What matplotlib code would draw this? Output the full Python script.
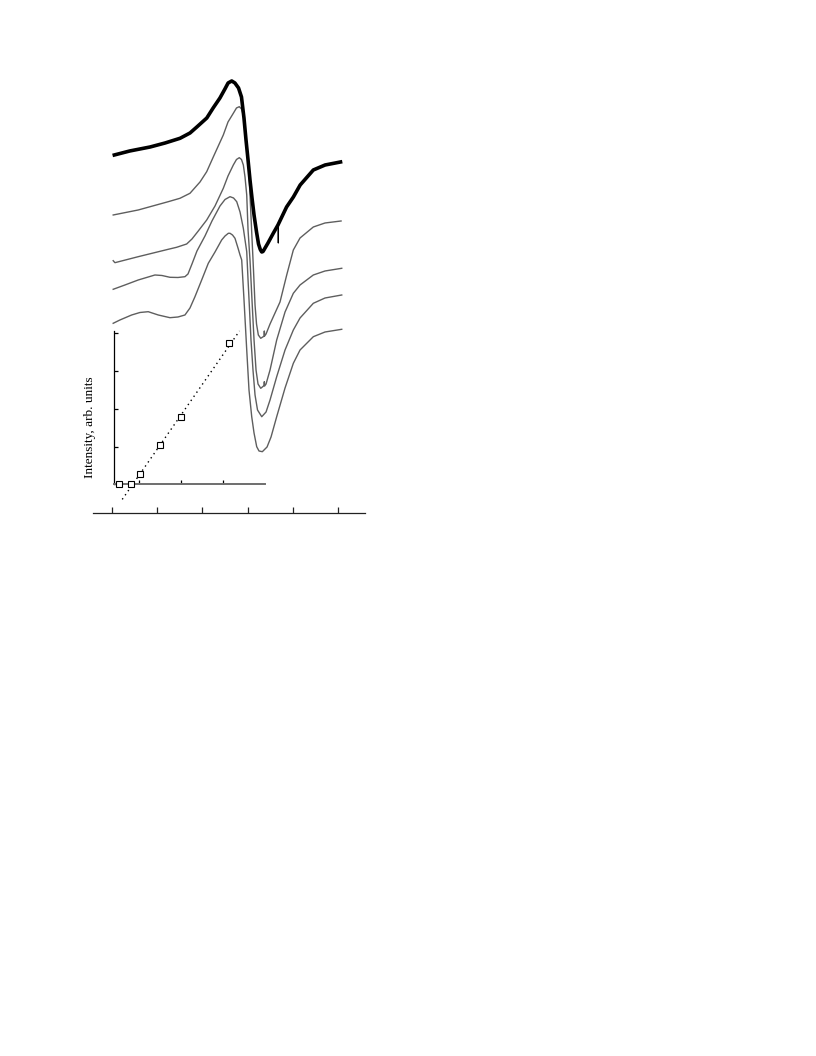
"""Stacked derivative spectra with an inset of intensity vs. dose."""

import matplotlib

matplotlib.use("Agg")
import matplotlib.pyplot as plt

# field axis, mT (ticks have no labels in the original)
field_ticks = [320, 330, 340, 350, 360, 370]

# top trace: noisy measured spectrum (values include the vertical offset)
b_meas = [320.6, 324.0, 328.5, 331.8, 335.1, 337.3, 338.8, 341.0, 342.4, 343.9,
          345.0, 345.7, 346.5, 347.2, 348.0, 348.65, 349.2, 349.65, 350.1, 350.53,
          350.97, 351.42, 351.97, 352.41, 352.8, 353.12, 353.4, 353.6, 354.5, 355.7,
          356.7, 358.6, 360.1, 361.6, 364.5, 367.1, 370.5]
i_meas = [35.8, 36.2, 36.6, 37.0, 37.47, 38.0, 38.6, 39.5, 40.5, 41.5,
          42.4, 43.0, 43.2, 43.0, 42.5, 41.6, 39.5, 37.3, 35.3, 33.3,
          31.5, 29.8, 28.1, 26.9, 26.35, 26.1, 26.15, 26.3, 27.0, 28.0,
          28.8, 30.6, 31.6, 32.8, 34.3, 34.8, 35.1]
# narrow glitch below the measured trace
b_glitch = [356.76, 356.78, 356.80]
i_glitch = [28.8, 27.0, 28.8]

# simulated traces, top to bottom
b_sim1 = [320.35, 325.87, 332.50, 335.08, 337.29, 339.50, 340.98, 342.43, 344.64, 345.68,
          346.85, 347.55, 348.17, 348.65, 349.06, 349.43, 349.87, 350.16, 350.53, 350.97,
          351.30, 351.64, 351.97, 352.37, 352.90, 353.52, 353.63, 353.69, 353.76, 354.07,
          354.95, 356.05, 357.15, 358.63, 360.09, 361.57, 364.50, 367.08, 370.62]
i_sim1 = [29.8, 30.3, 31.13, 31.47, 31.97, 33.1, 34.13, 35.6, 37.8, 39.1,
          39.97, 40.5, 40.63, 40.4, 39.8, 38.5, 36.5, 35.13, 31.8, 27.5,
          24.3, 20.8, 18.9, 17.8, 17.47, 17.65, 17.7, 18.2, 17.7, 17.9,
          18.9, 20.0, 21.1, 23.8, 26.3, 27.5, 28.6, 29.0, 29.2]

b_sim2 = [320.35, 320.73, 325.87, 332.50, 334.35, 336.56, 337.73, 339.12, 340.98, 342.81,
          344.64, 345.68, 346.85, 347.55, 348.17, 348.65, 349.06, 349.43, 349.81, 350.10,
          350.53, 350.97, 351.42, 351.86, 352.30, 352.90, 353.52, 353.63, 353.69, 353.76,
          354.07, 354.95, 356.42, 358.26, 360.09, 361.57, 364.50, 367.08, 370.77]
i_sim2 = [25.23, 25.03, 25.63, 26.37, 26.57, 26.9, 27.4, 28.2, 29.3, 30.7,
          32.47, 33.7, 34.8, 35.35, 35.53, 35.35, 34.8, 33.6, 31.8, 28.3,
          25.3, 21.3, 17.3, 14.3, 12.9, 12.47, 12.7, 12.75, 13.13, 12.7,
          12.9, 14.3, 17.3, 20.1, 21.97, 22.8, 23.8, 24.2, 24.47]

b_sim3 = [320.35, 322.94, 325.87, 329.56, 331.10, 332.87, 334.64, 336.18, 336.85, 337.73,
          338.83, 340.60, 342.14, 343.91, 345.02, 346.12, 346.90, 347.60, 348.33, 349.06,
          349.81, 350.10, 350.43, 350.75, 351.19, 351.64, 352.19, 353.12, 354.07, 354.95,
          356.42, 358.26, 360.09, 361.57, 364.50, 367.08, 370.77]
i_sim3 = [22.37, 22.8, 23.3, 23.8, 23.75, 23.57, 23.55, 23.63, 23.9, 24.9,
          26.2, 27.7, 29.2, 30.7, 31.35, 31.63, 31.5, 31.13, 30.1, 28.47,
          26.13, 23.3, 20.3, 17.3, 14.3, 11.8, 10.3, 9.63, 10.1, 11.3,
          13.63, 16.3, 18.3, 19.5, 20.97, 21.5, 21.8]

b_sim4 = [320.35, 321.83, 324.42, 326.25, 328.08, 330.29, 332.87, 334.64, 336.18, 337.29,
          338.39, 339.94, 341.33, 342.81, 344.28, 345.02, 345.75, 346.12, 346.67, 347.22,
          347.88, 348.33, 348.70, 349.21, 349.81, 350.31, 350.91, 351.42, 352.01, 352.52,
          353.25, 354.29, 355.17, 356.42, 358.26, 360.09, 361.57, 364.50, 367.08, 370.77]
i_sim4 = [18.97, 19.3, 19.8, 20.05, 20.13, 19.8, 19.53, 19.6, 19.8, 20.5,
          21.63, 23.38, 24.97, 26.1, 27.3, 27.7, 27.97, 27.97, 27.8, 27.47,
          26.5, 25.8, 25.3, 21.3, 16.3, 12.3, 9.63, 8.0, 6.63, 6.2,
          6.13, 6.6, 7.6, 9.63, 12.5, 14.97, 16.3, 17.63, 18.1, 18.37]

# inset: intensity vs dose, with linear fit
dose = [0.51, 0.80, 1.01, 1.50, 2.00, 3.15]
intensity = [0.0, 0.0, 0.26, 1.05, 1.79, 3.73]
fit_x = [0.59, 3.40]
fit_y = [-0.40, 4.06]


def main() -> int:
    plt.rcParams["font.family"] = ["Liberation Serif", "DejaVu Serif"]
    fig = plt.figure(figsize=(8.16, 10.56), dpi=100)

    ax = fig.add_axes([0.114, 0.5142, 0.3333, 0.4148])
    ax.patch.set_visible(False)
    grey = "#5e5e5e"
    for b, i in [(b_sim1, i_sim1), (b_sim2, i_sim2), (b_sim3, i_sim3), (b_sim4, i_sim4)]:
        ax.plot(b, i, color=grey, lw=1.0)
    ax.plot(b_meas, i_meas, color="black", lw=2.6, solid_joinstyle="round")
    ax.plot(b_glitch, i_glitch, color="black", lw=0.9)
    ax.set_xlim(315.9, 375.9)
    ax.set_ylim(0, 43.8)
    for s in ("left", "right", "top"):
        ax.spines[s].set_visible(False)
    ax.spines["bottom"].set_color("#222222")
    ax.spines["bottom"].set_linewidth(0.9)
    ax.set_xticks(field_ticks)
    ax.set_xticklabels([])
    ax.set_yticks([])
    ax.tick_params(axis="x", direction="in", length=4, width=0.9, color="#222222")

    ins = fig.add_axes([0.1401, 0.5414, 0.1841, 0.1452])
    ins.patch.set_visible(False)
    ins.plot(fit_x, fit_y, color="black", lw=1.0, ls=(0, (1, 2.6)), clip_on=False)
    ins.plot(dose, intensity, ls="none", marker="s", ms=5, mfc="white", mec="black",
             mew=0.8, clip_on=False, zorder=5)
    ins.set_xlim(0.4, 4.0)
    ins.set_ylim(0, 4.06)
    ins.spines["right"].set_visible(False)
    ins.spines["top"].set_visible(False)
    ins.spines["left"].set_linewidth(0.9)
    ins.spines["bottom"].set_color("#6e6e6e")
    ins.spines["bottom"].set_linewidth(1.4)
    ins.set_xticks([1, 2, 3])
    ins.set_yticks([0, 1, 2, 3, 4])
    ins.set_xticklabels([])
    ins.set_yticklabels([])
    ins.tick_params(direction="in", length=3, width=0.9)

    fig.text(90.5 / 816, 1 - 426.7 / 1056, "Intensity, arb. units", rotation=90,
             ha="center", va="center", fontsize=9.5)

    fig.savefig("out.png", dpi=100)
    plt.close(fig)
    return 0


if __name__ == "__main__":
    raise SystemExit(main())
